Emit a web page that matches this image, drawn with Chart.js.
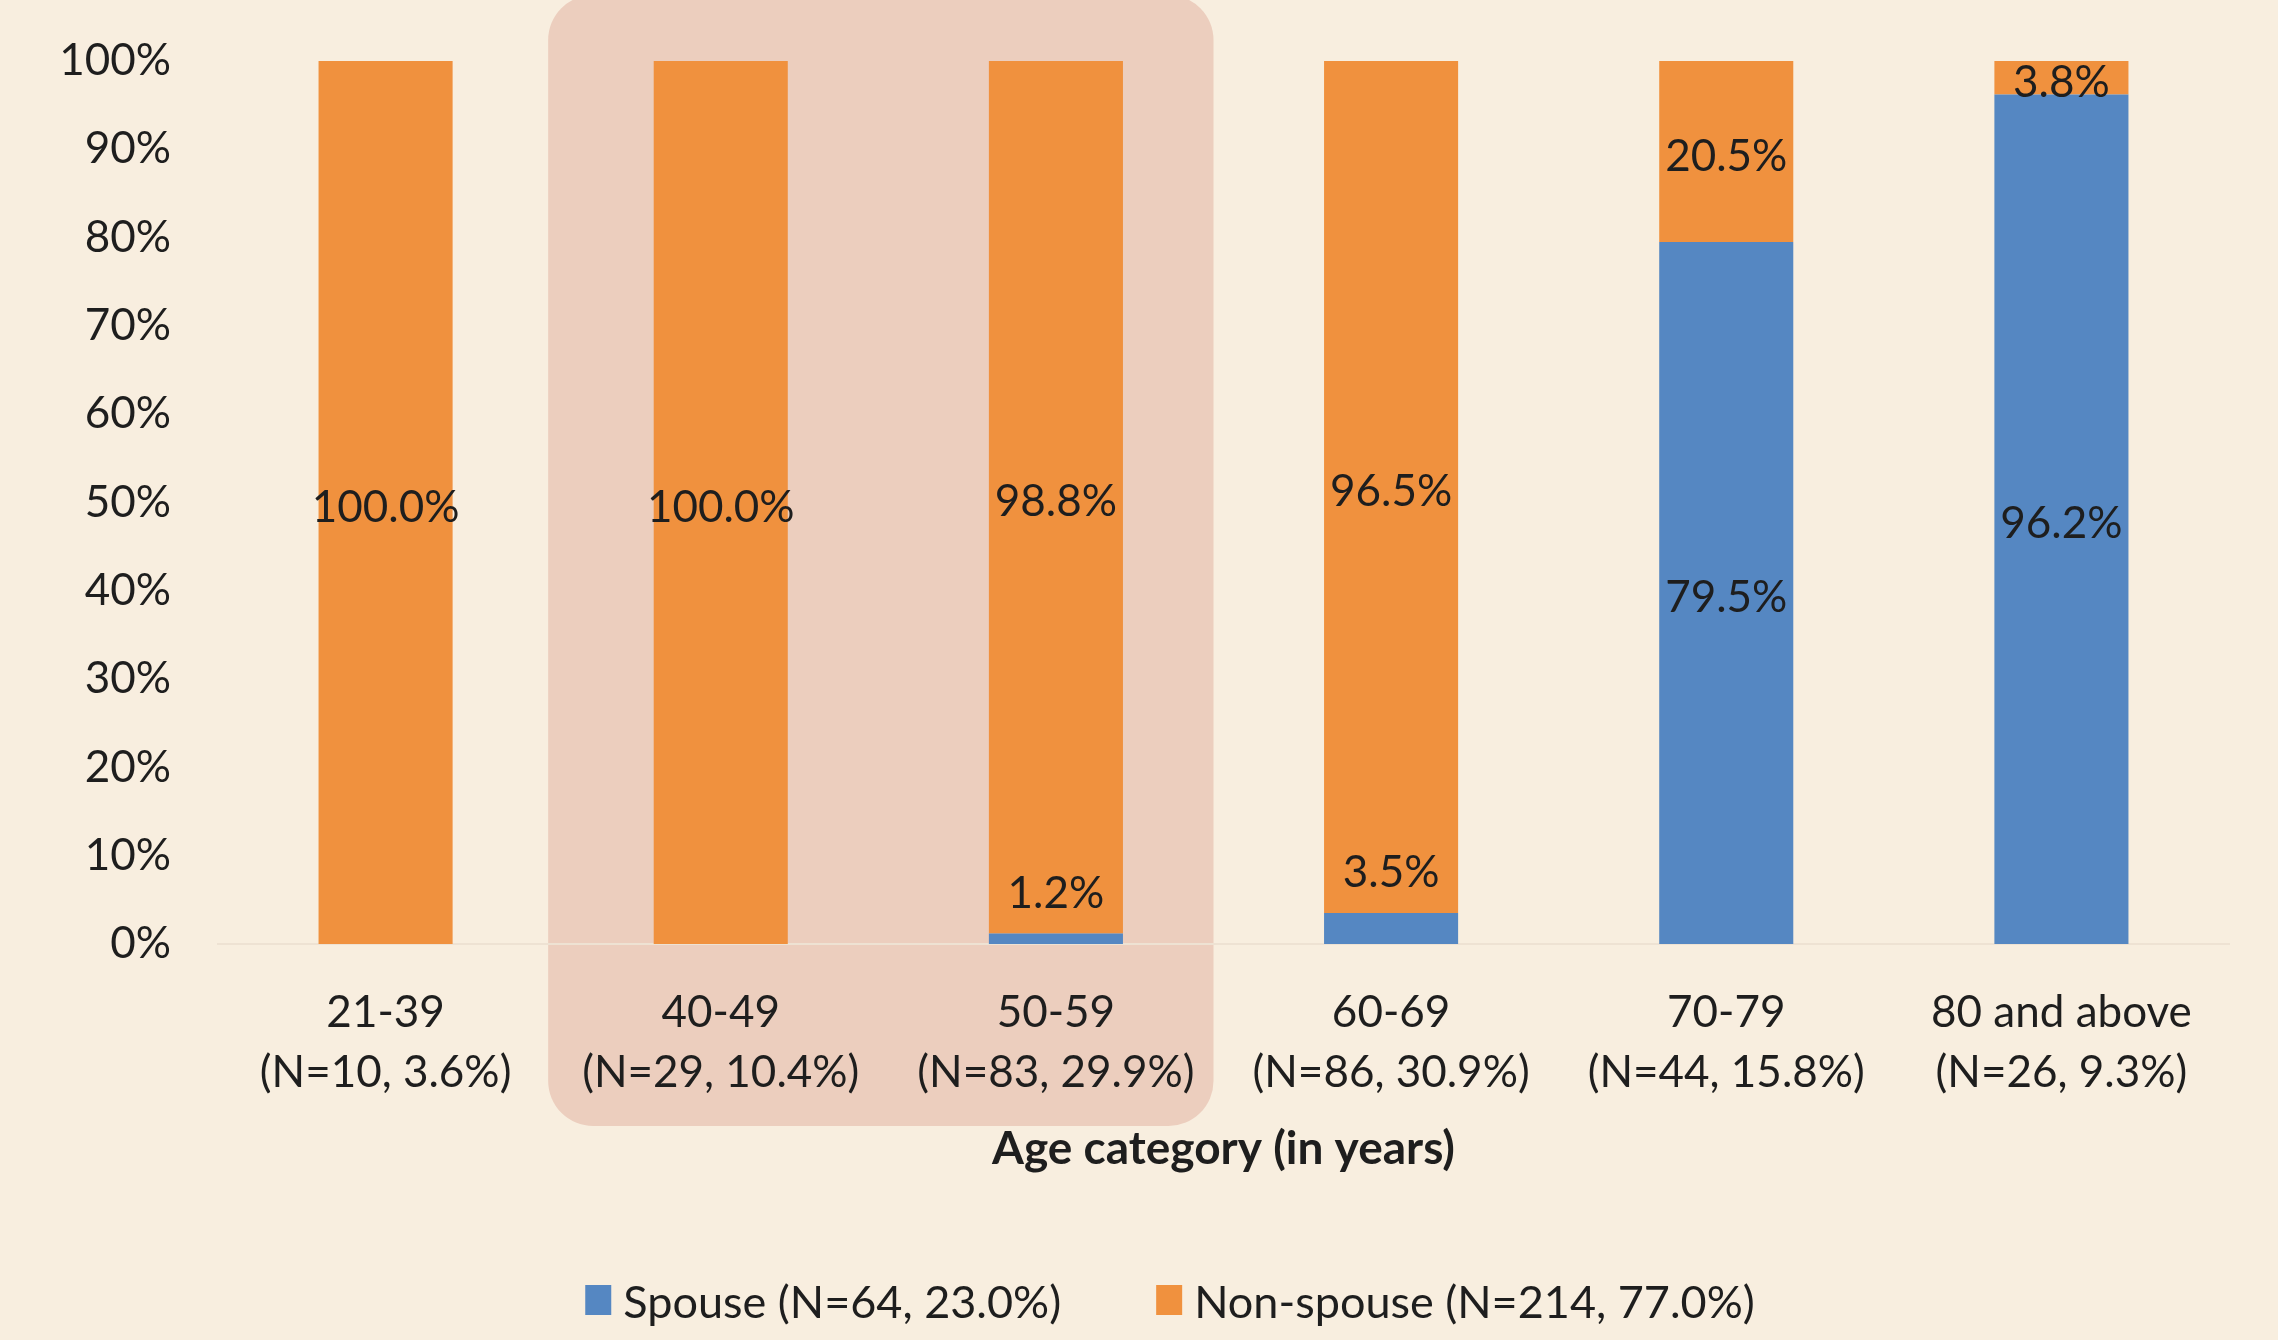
<!DOCTYPE html>
<html>
<head>
<meta charset="utf-8">
<script src="https://cdn.jsdelivr.net/npm/chart.js@4/dist/chart.umd.min.js"></script>
<style>
  body { margin: 0; background: #F8EEDF; }
  canvas { display: block; }
</style>
</head>
<body>
<canvas id="ageChart" width="2278" height="1340"></canvas>
<script>
const ageGroups = [
  ['21-39', '(N=10, 3.6%)'],
  ['40-49', '(N=29, 10.4%)'],
  ['50-59', '(N=83, 29.9%)'],
  ['60-69', '(N=86, 30.9%)'],
  ['70-79', '(N=44, 15.8%)'],
  ['80 and above', '(N=26, 9.3%)']
];
const spouse = [0, 0, 1.2, 3.5, 79.5, 96.2];
const nonSpouse = [100, 100, 98.8, 96.5, 20.5, 3.8];
const seriesNames = ['Spouse (N=64, 23.0%)', 'Non-spouse (N=214, 77.0%)'];
const highlighted = [1, 2]; // 40-49 and 50-59

const textColor = '#1e1e1e';
const fontName = 'Lato';

// shaded rounded box behind the highlighted age groups
const highlightBox = {
  id: 'highlightBox',
  beforeDraw(chart) {
    const ctx = chart.ctx;
    const x = chart.scales.x;
    const step = x.getPixelForValue(1) - x.getPixelForValue(0);
    const left = x.getPixelForValue(highlighted[0]) - step / 2 - 5;
    const right = x.getPixelForValue(highlighted[highlighted.length - 1]) + step / 2 - 10;
    ctx.save();
    ctx.fillStyle = '#ECCEBE';
    ctx.beginPath();
    ctx.roundRect(left, -5, right - left, 1131, 45);
    ctx.fill();
    ctx.restore();
  }
};

// percentage labels on the bars
const barLabels = {
  id: 'barLabels',
  afterDatasetsDraw(chart) {
    const ctx = chart.ctx;
    ctx.save();
    ctx.font = '44px ' + fontName;
    ctx.fillStyle = textColor;
    ctx.textAlign = 'center';
    ctx.textBaseline = 'middle';
    chart.data.datasets.forEach((ds, i) => {
      chart.getDatasetMeta(i).data.forEach((bar, j) => {
        const v = ds.data[j];
        if (!v) return;
        let y = (bar.y + bar.base) / 2 + 5;
        if (i === 0 && bar.base - bar.y < 60) y = bar.y - 40;
        ctx.fillText(v.toFixed(1) + '%', bar.x, y);
      });
    });
    ctx.restore();
  }
};

// legend row at the bottom, wide gap between the two items
const bottomLegend = {
  id: 'bottomLegend',
  afterDraw(chart) {
    const ctx = chart.ctx;
    const ds = chart.data.datasets;
    const boxW = 26, boxH = 30, textGap = 12, itemGap = 95;
    const y = 1303;
    ctx.save();
    ctx.font = '45px ' + fontName;
    ctx.textBaseline = 'middle';
    ctx.textAlign = 'left';
    const widths = ds.map(d => ctx.measureText(d.label).width);
    let total = 0;
    widths.forEach((w, i) => { total += boxW + textGap + w + (i ? itemGap : 0); });
    let x = 1170 - total / 2;
    ds.forEach((d, i) => {
      ctx.fillStyle = d.backgroundColor;
      ctx.fillRect(x, y - boxH / 2 - 3, boxW, boxH);
      ctx.fillStyle = textColor;
      ctx.fillText(d.label, x + boxW + textGap, y);
      x += boxW + textGap + widths[i] + itemGap;
    });
    ctx.restore();
  }
};

const ctx = document.getElementById('ageChart').getContext('2d');

new Chart(ctx, {
  type: 'bar',
  data: {
    labels: ageGroups,
    datasets: [{
      label: seriesNames[0],
      data: spouse,
      backgroundColor: '#5587C2',
      barPercentage: 0.4,
      categoryPercentage: 1.0
    }, {
      label: seriesNames[1],
      data: nonSpouse,
      backgroundColor: '#F0913E',
      barPercentage: 0.4,
      categoryPercentage: 1.0
    }]
  },
  options: {
    responsive: false,
    animation: false,
    layout: {
      padding: { top: 61, right: 49, left: 0, bottom: 154 }
    },
    scales: {
      x: {
        stacked: true,
        grid: { display: false, drawTicks: false },
        border: { display: true, color: '#EEE2D3', width: 2 },
        ticks: {
          color: textColor,
          padding: 38,
          font: { family: fontName, size: 44, lineHeight: 1.38 }
        },
        title: {
          display: true,
          text: 'Age category (in years)',
          color: textColor,
          font: { family: fontName, size: 46, weight: 'bold' },
          padding: { top: 0, bottom: 9 }
        },
        afterFit(scale) { scale.height = 242; }
      },
      y: {
        stacked: true,
        min: 0,
        max: 100,
        grid: { display: false, drawTicks: false },
        border: { display: false },
        ticks: {
          stepSize: 10,
          color: textColor,
          padding: 47,
          font: { family: fontName, size: 44 },
          callback: v => v + '%'
        },
        afterFit(scale) {
          scale.width = 218;
          scale.paddingTop = 0;
        }
      }
    },
    plugins: {
      legend: { display: false },
      tooltip: { enabled: false }
    }
  },
  plugins: [highlightBox, barLabels, bottomLegend]
});
</script>
</body>
</html>
